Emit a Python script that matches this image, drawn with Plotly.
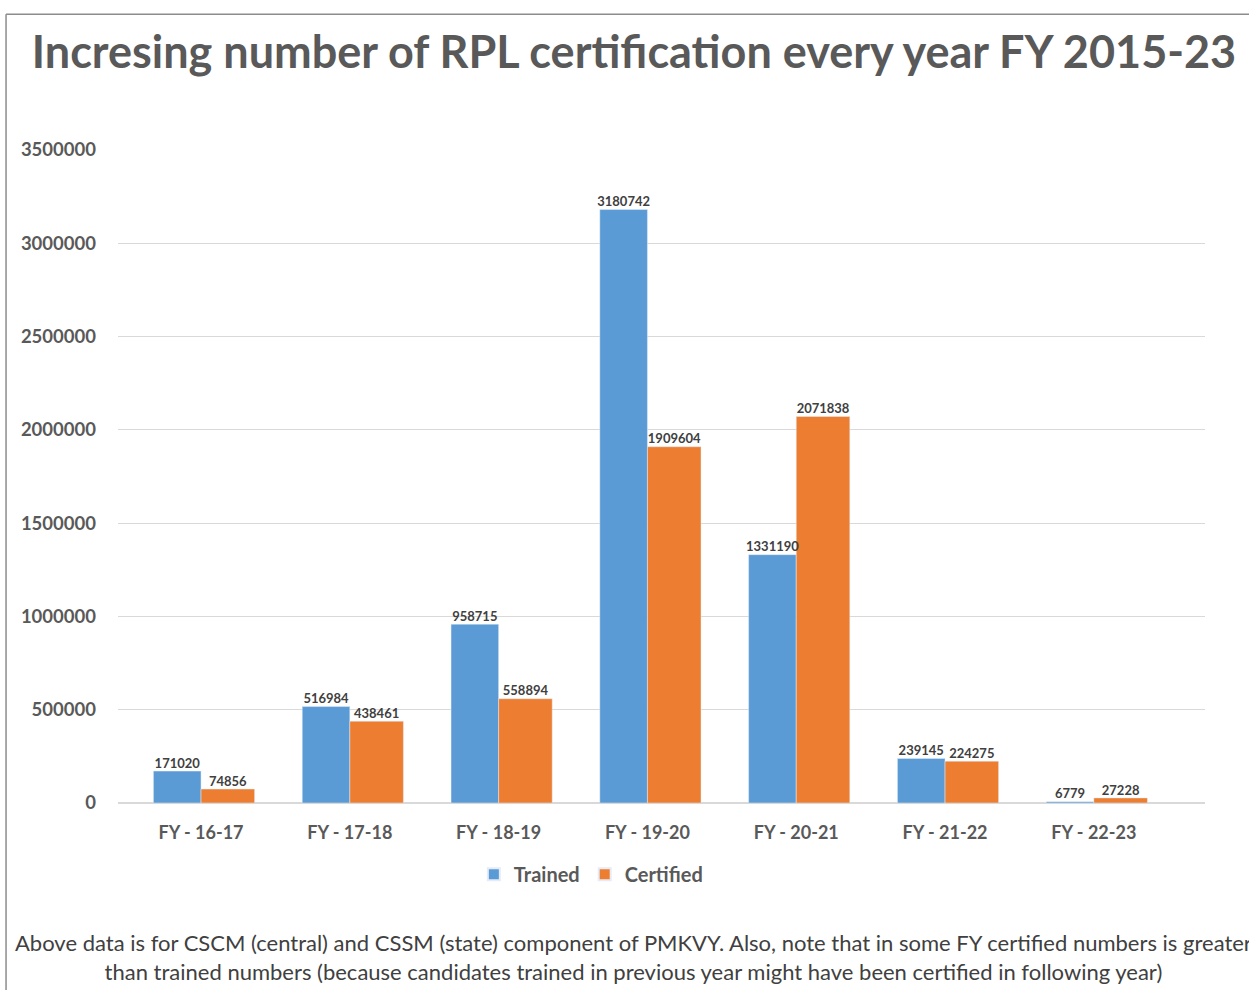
import plotly.graph_objects as go

categories = ["FY - 16-17", "FY - 17-18", "FY - 18-19", "FY - 19-20", "FY - 20-21", "FY - 21-22", "FY - 22-23"]
trained = [171020, 516984, 958715, 3180742, 1331190, 239145, 6779]
certified = [74856, 438461, 558894, 1909604, 2071838, 224275, 27228]
y_ticks = [0, 500000, 1000000, 1500000, 2000000, 2500000, 3000000, 3500000]

xpos = list(range(len(categories)))
FONT = "Lato"
GREY = "#595959"
W_T, W_C = 0.32, 0.36
label_font = dict(family=FONT, size=13, color="#404040", weight="bold")

fig = go.Figure()
fig.add_trace(go.Bar(
    x=xpos, y=trained, name="Trained", marker_color="#5B9BD5",
    width=W_T, offset=-W_T,
))
fig.add_trace(go.Bar(
    x=xpos, y=certified, name="Certified", marker_color="#ED7D31",
    width=W_C, offset=0,
))
# value labels drawn on top of all bars
fig.add_trace(go.Scatter(
    x=[i - W_T / 2 for i in xpos], y=trained, mode="text",
    text=[str(v) for v in trained], textposition="top center",
    textfont=label_font, showlegend=False, hoverinfo="skip", cliponaxis=False,
))
fig.add_trace(go.Scatter(
    x=[i + W_C / 2 for i in xpos], y=certified, mode="text",
    text=[str(v) for v in certified], textposition="top center",
    textfont=label_font, showlegend=False, hoverinfo="skip", cliponaxis=False,
))

fig.update_layout(
    width=1249, height=990,
    margin=dict(l=118, r=44, t=150, b=187),
    paper_bgcolor="white", plot_bgcolor="white",
    barmode="overlay",
    showlegend=True,
    legend=dict(orientation="h", x=0.435, y=-0.109, xanchor="center", yanchor="middle",
                font=dict(family=FONT, size=20, color=GREY, weight="bold"),
                itemsizing="constant", itemwidth=30, traceorder="normal"),
    title=dict(text="Incresing number of RPL certification every year FY 2015-23",
               x=0.5076, xref="container", xanchor="center", y=0.947, yanchor="middle",
               font=dict(family=FONT, size=45, color=GREY, weight="bold")),
    xaxis=dict(range=[-0.558, 6.747], tickvals=xpos, ticktext=categories,
               showgrid=False, zeroline=False, showline=False, ticks="",
               ticklabelstandoff=17,
               tickfont=dict(family=FONT, size=18, color=GREY, weight="bold")),
    yaxis=dict(range=[0, 3500000], tickvals=y_ticks, ticktext=[str(v) for v in y_ticks],
               showgrid=True, gridcolor="#D9D9D9", gridwidth=1.3,
               zeroline=True, zerolinecolor="#D9D9D9", zerolinewidth=1.5,
               ticks="", ticklabelstandoff=21,
               tickfont=dict(family=FONT, size=18.5, color=GREY, weight="bold")),
    font=dict(family=FONT),
)

# frame lines
fig.add_shape(type="line", xref="paper", yref="paper", x0=-0.103, x1=1.06, y0=1.208, y1=1.208,
              line=dict(color="#8C8C8C", width=1.5))
fig.add_shape(type="line", xref="paper", yref="paper", x0=-0.103, x1=-0.103, y0=1.208, y1=-0.3,
              line=dict(color="#8C8C8C", width=1.5))

fig.add_annotation(
    text="Above data is for CSCM (central) and CSSM (state) component of PMKVY. Also, note that in some FY certified numbers is greater<br>than trained numbers (because candidates trained in previous year might have been certified in following year)",
    xref="paper", yref="paper", x=0.4747, y=-0.2358, xanchor="center", yanchor="middle",
    showarrow=False, align="center",
    font=dict(family=FONT, size=22, color="#404040"),
)

fig.write_html("out.html", post_script="document.body.style.margin='0';",
               config={"displayModeBar": False})
